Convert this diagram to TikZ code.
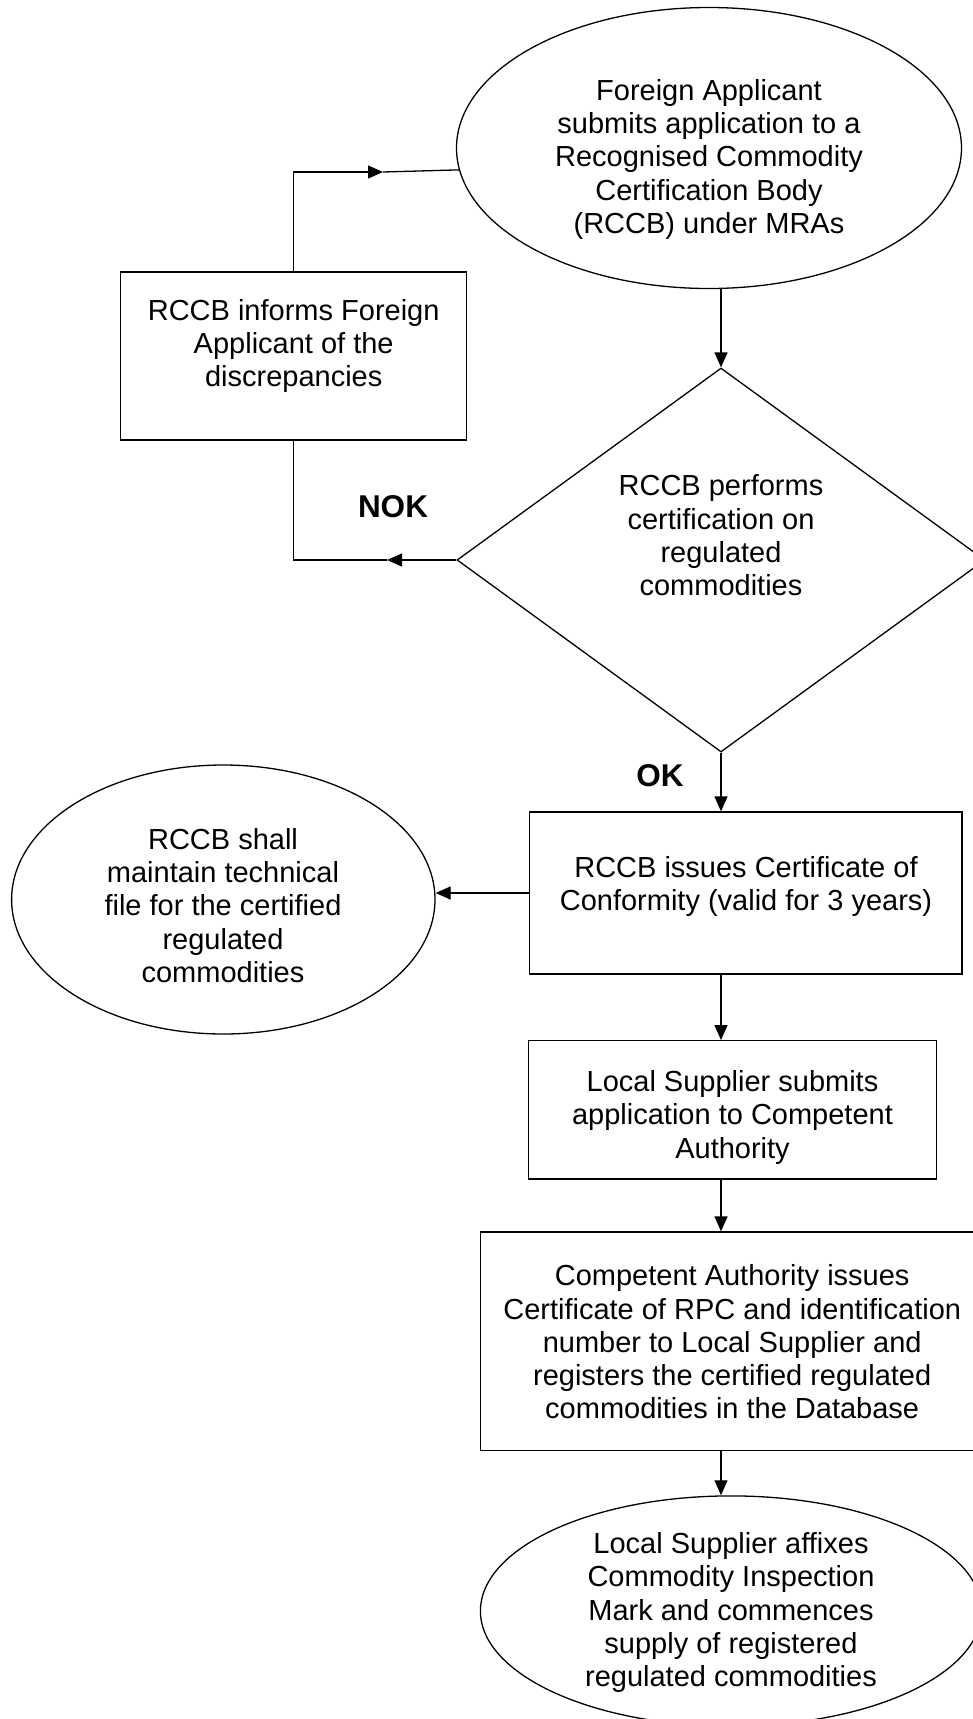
\documentclass[tikz,border=0pt]{standalone}
\usepackage{fontspec}
\setmainfont{Liberation Sans}
\usetikzlibrary{shapes.geometric,arrows.meta}
\begin{document}
\begin{tikzpicture}[x=1pt,y=-1pt,line width=1.3pt,
txt/.style={align=center, inner sep=0pt, font=\fontsize{29pt}{33.3pt}\selectfont},
lbl/.style={inner sep=0pt, font=\fontsize{31.5pt}{36pt}\selectfont\bfseries},
oval/.style={ellipse, draw, inner sep=0pt},
proc/.style={rectangle, draw, inner sep=0pt},
arr/.style={-{Triangle[length=15pt,width=13pt]}}]
\useasboundingbox (0,0) rectangle (973,1719);
\node[oval, minimum width=505pt, minimum height=281pt] (fa) at (709,148){};
\node[txt] (faT) at (709,159.2){Foreign Applicant\\submits application to a\\Recognised Commodity\\Certification Body\\(RCCB) under MRAs};
\node[diamond, draw, inner sep=0pt, minimum width=528pt, minimum height=384pt] (perf) at (721,560){};
\node[txt] (perfT) at (721,535.5){RCCB performs\\certification on\\regulated\\commodities};
\draw[arr](fa.south -| perf.north) -- (perf.north);
\node[proc, minimum width=346pt, minimum height=168pt] (inf) at (293.7,356){};
\node[txt] (infT) at (293.7,346){RCCB informs Foreign\\Applicant of the\\discrepancies};
\coordinate (upTip) at (383,172);
\coordinate (nokTip) at (387,560);
\draw[arr](inf.north) |- (upTip);
\draw[](upTip) -- (fa.185.5);
\draw[arr](perf.west) -- (nokTip);
\draw[](nokTip) -| (inf.south);
\node[lbl] (nok) at (393,507){NOK};
\node[lbl] (ok) at (660,776){OK};
\node[proc, minimum width=432.5pt, minimum height=162pt] (iss) at (745.75,893){};
\node[txt] (issT) at (746,886.5){RCCB issues Certificate of\\Conformity (valid for 3 years)};
\draw[arr](perf.south) -- (perf.south |- iss.north);
\node[oval, minimum width=423.4pt, minimum height=269pt] (tech) at (223.3,899.5){};
\node[txt] (techT) at (223,905.5){RCCB shall\\maintain technical\\file for the certified\\regulated\\commodities};
\draw[arr](iss.west) -- (iss.west -| tech.east);
\node[proc, minimum width=408.4pt, minimum height=138.3pt] (ls) at (732.5,1109.85){};
\node[txt] (lsT) at (732.5,1117.4){Local Supplier submits\\application to Competent\\Authority};
\draw[arr](perf.south |- iss.south) -- (perf.south |- ls.north);
\node[proc, minimum width=503.6pt, minimum height=218.5pt] (ca) at (732.2,1341.25){};
\node[txt] (caT) at (732.2,1342){Competent Authority issues\\Certificate of RPC and identification\\number to Local Supplier and\\registers the certified regulated\\commodities in the Database};
\draw[arr](perf.south |- ls.south) -- (perf.south |- ca.north);
\node[oval, minimum width=501.2pt, minimum height=230.2pt] (mark) at (731,1611){};
\node[txt] (markT) at (731,1612.5){Local Supplier affixes\\Commodity Inspection\\Mark and commences\\supply of registered\\regulated commodities};
\draw[arr](perf.south |- ca.south) -- (perf.south |- mark.north);
\end{tikzpicture}
\end{document}
